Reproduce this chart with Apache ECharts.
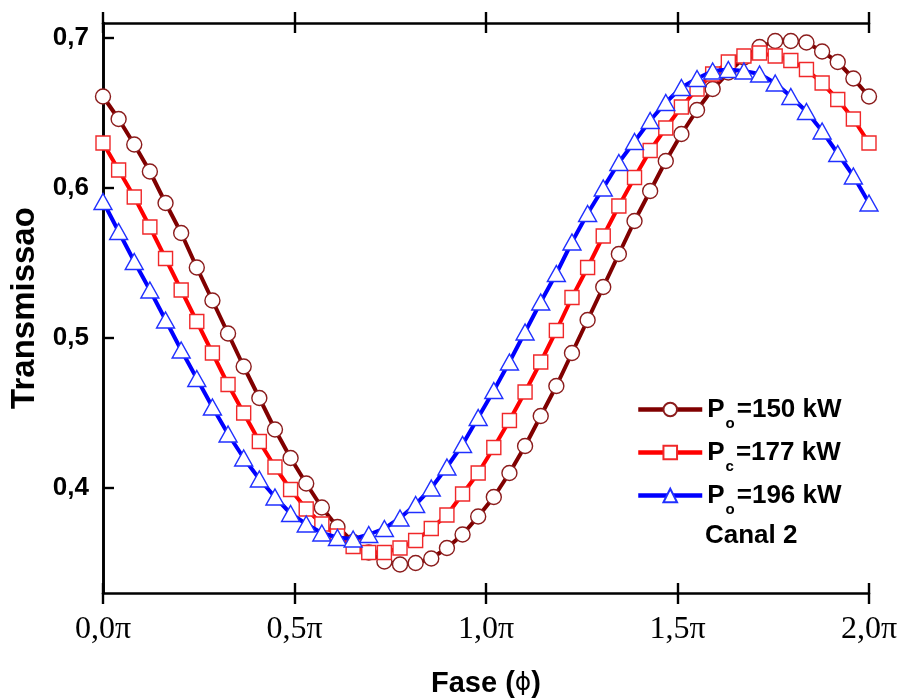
<!DOCTYPE html>
<html>
<head>
<meta charset="utf-8">
<script src="https://cdn.jsdelivr.net/npm/echarts@6/dist/echarts.min.js"></script>
<style>
html,body{margin:0;padding:0;background:#fff;}
#chart{width:898px;height:698px;}
</style>
</head>
<body>
<div id="chart"></div>
<script>
// Phase in units of pi (sample grid)
const phase = [0, 0.0408, 0.0816, 0.1224, 0.1633, 0.2041, 0.2449, 0.2857, 0.3265, 0.3673,
  0.4082, 0.4490, 0.4898, 0.5306, 0.5714, 0.6122, 0.6531, 0.6939, 0.7347, 0.7755,
  0.8163, 0.8571, 0.8980, 0.9388, 0.9796, 1.0204, 1.0612, 1.1020, 1.1429, 1.1837,
  1.2245, 1.2653, 1.3061, 1.3469, 1.3878, 1.4286, 1.4694, 1.5102, 1.5510, 1.5918,
  1.6327, 1.6735, 1.7143, 1.7551, 1.7959, 1.8367, 1.8776, 1.9184, 1.9592, 2.0];

const p150 = [0.661, 0.646, 0.629, 0.611, 0.590, 0.570, 0.547, 0.525, 0.503, 0.481,
  0.460, 0.439, 0.420, 0.403, 0.387, 0.374, 0.364, 0.357, 0.351, 0.349,
  0.350, 0.353, 0.360, 0.369, 0.381, 0.394, 0.410, 0.428, 0.448, 0.468,
  0.490, 0.512, 0.534, 0.556, 0.578, 0.598, 0.618, 0.636, 0.652, 0.666,
  0.677, 0.687, 0.694, 0.698, 0.698, 0.697, 0.691, 0.684, 0.673, 0.661];

const p177 = [0.630, 0.612, 0.594, 0.574, 0.553, 0.532, 0.511, 0.490, 0.469, 0.450,
  0.431, 0.414, 0.399, 0.386, 0.376, 0.368, 0.361, 0.357, 0.357, 0.360,
  0.365, 0.373, 0.382, 0.396, 0.410, 0.427, 0.445, 0.464, 0.484, 0.505,
  0.527, 0.547, 0.568, 0.588, 0.607, 0.625, 0.640, 0.654, 0.666, 0.676,
  0.684, 0.688, 0.690, 0.688, 0.685, 0.679, 0.670, 0.659, 0.646, 0.630];

const p196 = [0.591, 0.571, 0.551, 0.532, 0.512, 0.492, 0.473, 0.454, 0.436, 0.420,
  0.406, 0.394, 0.383, 0.376, 0.370, 0.367, 0.366, 0.369, 0.373, 0.380,
  0.389, 0.400, 0.414, 0.429, 0.447, 0.465, 0.484, 0.504, 0.524, 0.543,
  0.564, 0.583, 0.600, 0.617, 0.631, 0.645, 0.657, 0.667, 0.673, 0.678,
  0.679, 0.678, 0.676, 0.670, 0.661, 0.651, 0.638, 0.623, 0.608, 0.590];

const seriesNames = ['P150', 'P177', 'P196'];
const legendLabels = {
  P150: ['P', 'o', '=150 kW'],
  P177: ['P', 'c', '=177 kW'],
  P196: ['P', 'o', '=196 kW']
};
const yTicks = [0.4, 0.5, 0.6, 0.7];
const xTicks = [0, 0.5, 1.0, 1.5, 2.0];
const noteText = 'Canal 2';
const xTitle = ['Fase (', 'ϕ', ')'];
const yTitle = 'Transmissao';

const sans = '"Liberation Sans", Arial, sans-serif';
const serif = '"Liberation Serif", "Times New Roman", serif';

function pairs(ys) { return phase.map((x, i) => [x, ys[i]]); }

const chart = echarts.init(document.getElementById('chart'), null, {renderer: 'canvas'});

const axisLineStyle = {color: '#000', width: 2.6};
const baseX = {
  type: 'value', min: 0, max: 2, interval: 0.5,
  splitLine: {show: false}
};

const option = {
  animation: false,
  backgroundColor: '#fff',
  grid: {left: 103, right: 29, top: 23, bottom: 105, containLabel: false, outerBoundsMode: 'none'},
  xAxis: [
    Object.assign({}, baseX, {
      position: 'bottom',
      axisLine: {show: true, lineStyle: axisLineStyle},
      axisTick: {show: true, inside: true, length: 10, lineStyle: {color: '#000', width: 2.4}},
      axisLabel: {
        margin: 21, color: '#000', fontFamily: serif, fontSize: 32,
        formatter: v => v.toFixed(1).replace('.', ',') + 'π'
      },
      name: '',
      nameLocation: 'middle', nameGap: 76,
      nameTextStyle: {color: '#000', fontFamily: sans, fontWeight: 'bold', fontSize: 29}
    }),
    Object.assign({}, baseX, {
      position: 'bottom', gridIndex: 0,
      axisLine: {show: false},
      axisTick: {show: true, inside: false, length: 11, lineStyle: {color: '#000', width: 2.4}},
      axisLabel: {show: false}
    }),
    Object.assign({}, baseX, {
      position: 'top',
      axisLine: {show: true, lineStyle: axisLineStyle},
      axisTick: {show: true, inside: true, length: 10, lineStyle: {color: '#000', width: 2.4}},
      axisLabel: {show: false}
    }),
    Object.assign({}, baseX, {
      position: 'top',
      axisLine: {show: false},
      axisTick: {show: true, inside: false, length: 11, lineStyle: {color: '#000', width: 2.4}},
      axisLabel: {show: false}
    })
  ],
  yAxis: [
    {
      type: 'value', min: 0.33, max: 0.71, position: 'left',
      splitLine: {show: false},
      axisLine: {show: true, lineStyle: axisLineStyle},
      axisTick: {show: true, inside: true, length: 11, customValues: yTicks, lineStyle: {color: '#000', width: 2.4}},
      axisLabel: {
        customValues: yTicks, margin: 14, color: '#000', fontFamily: sans, fontWeight: 'bold', fontSize: 26,
        formatter: v => v.toFixed(1).replace('.', ',')
      },
      name: yTitle, nameLocation: 'middle', nameGap: 62, nameRotate: 90,
      nameTextStyle: {color: '#000', fontFamily: sans, fontWeight: 'bold', fontSize: 33}
    },
    {
      type: 'value', min: 0.33, max: 0.71, position: 'right',
      splitLine: {show: false},
      axisLine: {show: true, lineStyle: axisLineStyle},
      axisTick: {show: false},
      axisLabel: {show: false}
    }
  ],
  legend: {
    orient: 'vertical', left: 636, top: 388, padding: 0, itemGap: 0,
    itemWidth: 64, itemHeight: 17,
    lineStyle: {width: 4.5},
    data: seriesNames,
    formatter: name => {
      const l = legendLabels[name];
      return '{p|' + l[0] + '}{s|' + l[1] + '}{t|' + l[2] + '}';
    },
    textStyle: {
      color: '#000', fontFamily: sans, fontWeight: 'bold', fontSize: 26,
      rich: {
        p: {fontFamily: sans, fontWeight: 'bold', fontSize: 26, lineHeight: 26, color: '#000'},
        s: {fontFamily: sans, fontWeight: 'bold', fontSize: 15, lineHeight: 15, padding: [28, 0, 0, 1], color: '#000'},
        t: {fontFamily: sans, fontWeight: 'bold', fontSize: 26, lineHeight: 26, color: '#000', padding: [0, 0, 0, 2]}
      }
    }
  },
  graphic: [
    {
      type: 'text', left: 705, top: 523,
      style: {text: noteText, fill: '#000', font: 'bold 26px ' + sans}
    }
  ],
  series: [
    {
      name: 'P150', type: 'line', xAxisIndex: 0, yAxisIndex: 0,
      data: pairs(p150),
      symbol: 'circle', symbolSize: 15,
      lineStyle: {color: '#800000', width: 4},
      itemStyle: {color: '#ffffff', borderColor: '#8b1c1c', borderWidth: 1.4},
      z: 2
    },
    {
      name: 'P177', type: 'line', xAxisIndex: 0, yAxisIndex: 0,
      data: pairs(p177),
      symbol: 'rect', symbolSize: 14,
      lineStyle: {color: '#ff0000', width: 4},
      itemStyle: {color: '#ffffff', borderColor: '#f0282a', borderWidth: 1.4},
      z: 3
    },
    {
      name: 'P196', type: 'line', xAxisIndex: 0, yAxisIndex: 0,
      data: pairs(p196),
      symbol: 'triangle', symbolSize: [18, 16],
      lineStyle: {color: '#0000ff', width: 4},
      itemStyle: {color: '#ffffff', borderColor: '#2030ff', borderWidth: 1.4},
      z: 4
    }
  ]
};
option.xAxis[0].name = '{a|' + xTitle[0] + '}{b|' + xTitle[1] + '}{a|' + xTitle[2] + '}';
option.xAxis[0].nameTextStyle.rich = {
  a: {fontFamily: sans, fontWeight: 'bold', fontSize: 29, color: '#000'},
  b: {fontFamily: '"DejaVu Sans", sans-serif', fontWeight: 'normal', fontSize: 25, color: '#000'}
};
chart.setOption(option);
</script>
</body>
</html>
